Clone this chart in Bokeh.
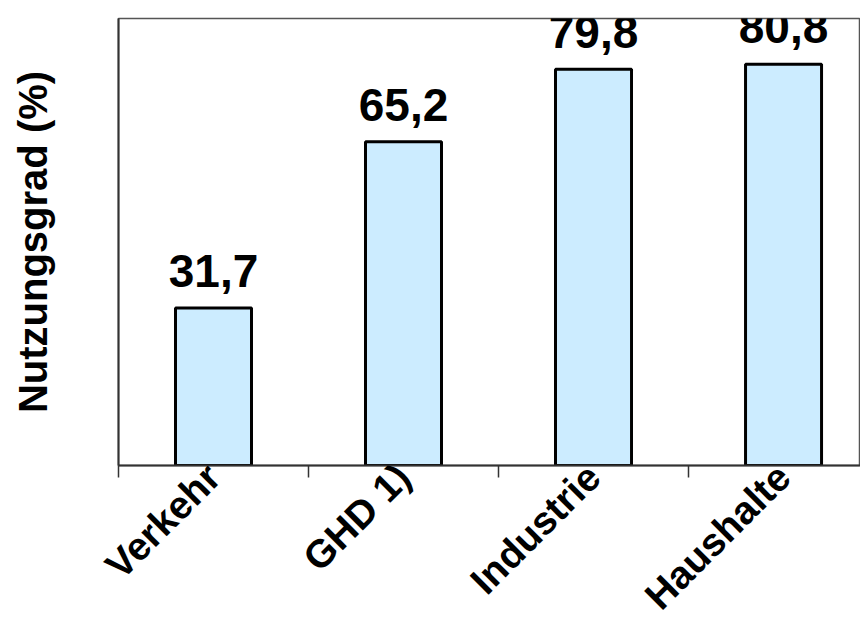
import math
from bokeh.plotting import figure
from bokeh.models import Range1d, FixedTicker, ColumnDataSource, LabelSet
from bokeh.core.properties import value
from bokeh.embed import file_html
from bokeh.resources import INLINE

categories = ["Verkehr", "GHD 1)", "Industrie", "Haushalte"]
values = [31.7, 65.2, 79.8, 80.8]
value_labels = ["31,7", "65,2", "79,8", "80,8"]
y_title = "Nutzungsgrad (%)"

FONT = "Liberation Sans"

xpos = [i + 0.5 for i in range(len(categories))]
src = ColumnDataSource(dict(x=xpos, top=values, lab=value_labels))

p = figure(width=860, height=635, output_backend="svg", toolbar_location=None,
           x_range=Range1d(0, 3.905), y_range=Range1d(0, 90),
           min_border_left=118, min_border_right=0, min_border_top=18,
           min_border_bottom=170, x_axis_location="below")
p.background_fill_color = "white"
p.border_fill_color = "white"
p.outline_line_color = "#555555"
p.outline_line_width = 1.5
p.grid.visible = False

p.vbar(x="x", top="top", width=0.4, bottom=0, source=src,
       fill_color="#CCECFF", line_color="black", line_width=3)

labels = LabelSet(x="x", y="top", text="lab", source=src, y_offset=21,
                  text_align="center", text_baseline="alphabetic",
                  text_font=value(FONT), text_font_style="bold",
                  text_font_size="46px", text_color="black")
p.add_layout(labels)

xa = p.xaxis[0]
xa.ticker = FixedTicker(ticks=xpos, minor_ticks=list(range(len(categories))))
xa.major_label_overrides = {x: c for x, c in zip(xpos, categories)}
xa.major_label_orientation = math.pi / 4
xa.major_tick_out = 0
xa.major_tick_in = 0
xa.minor_tick_out = 12
xa.minor_tick_in = 0
xa.minor_tick_line_color = "#333333"
xa.minor_tick_line_width = 1.5
xa.axis_line_color = "#333333"
xa.axis_line_width = 2
xa.major_label_text_font = FONT
xa.major_label_text_font_style = "bold"
xa.major_label_text_font_size = "39px"
xa.major_label_text_color = "black"
xa.major_label_standoff = -7

ya = p.yaxis[0]
ya.ticker = FixedTicker(ticks=[])
ya.axis_line_color = "#333333"
ya.axis_line_width = 2
ya.major_label_text_font_size = "0px"
ya.axis_label = y_title
ya.axis_label_text_font = FONT
ya.axis_label_text_font_style = "bold"
ya.axis_label_text_font_size = "40px"
ya.axis_label_text_color = "black"
ya.axis_label_standoff = 64

open("out.html", "w").write(file_html(p, INLINE))
